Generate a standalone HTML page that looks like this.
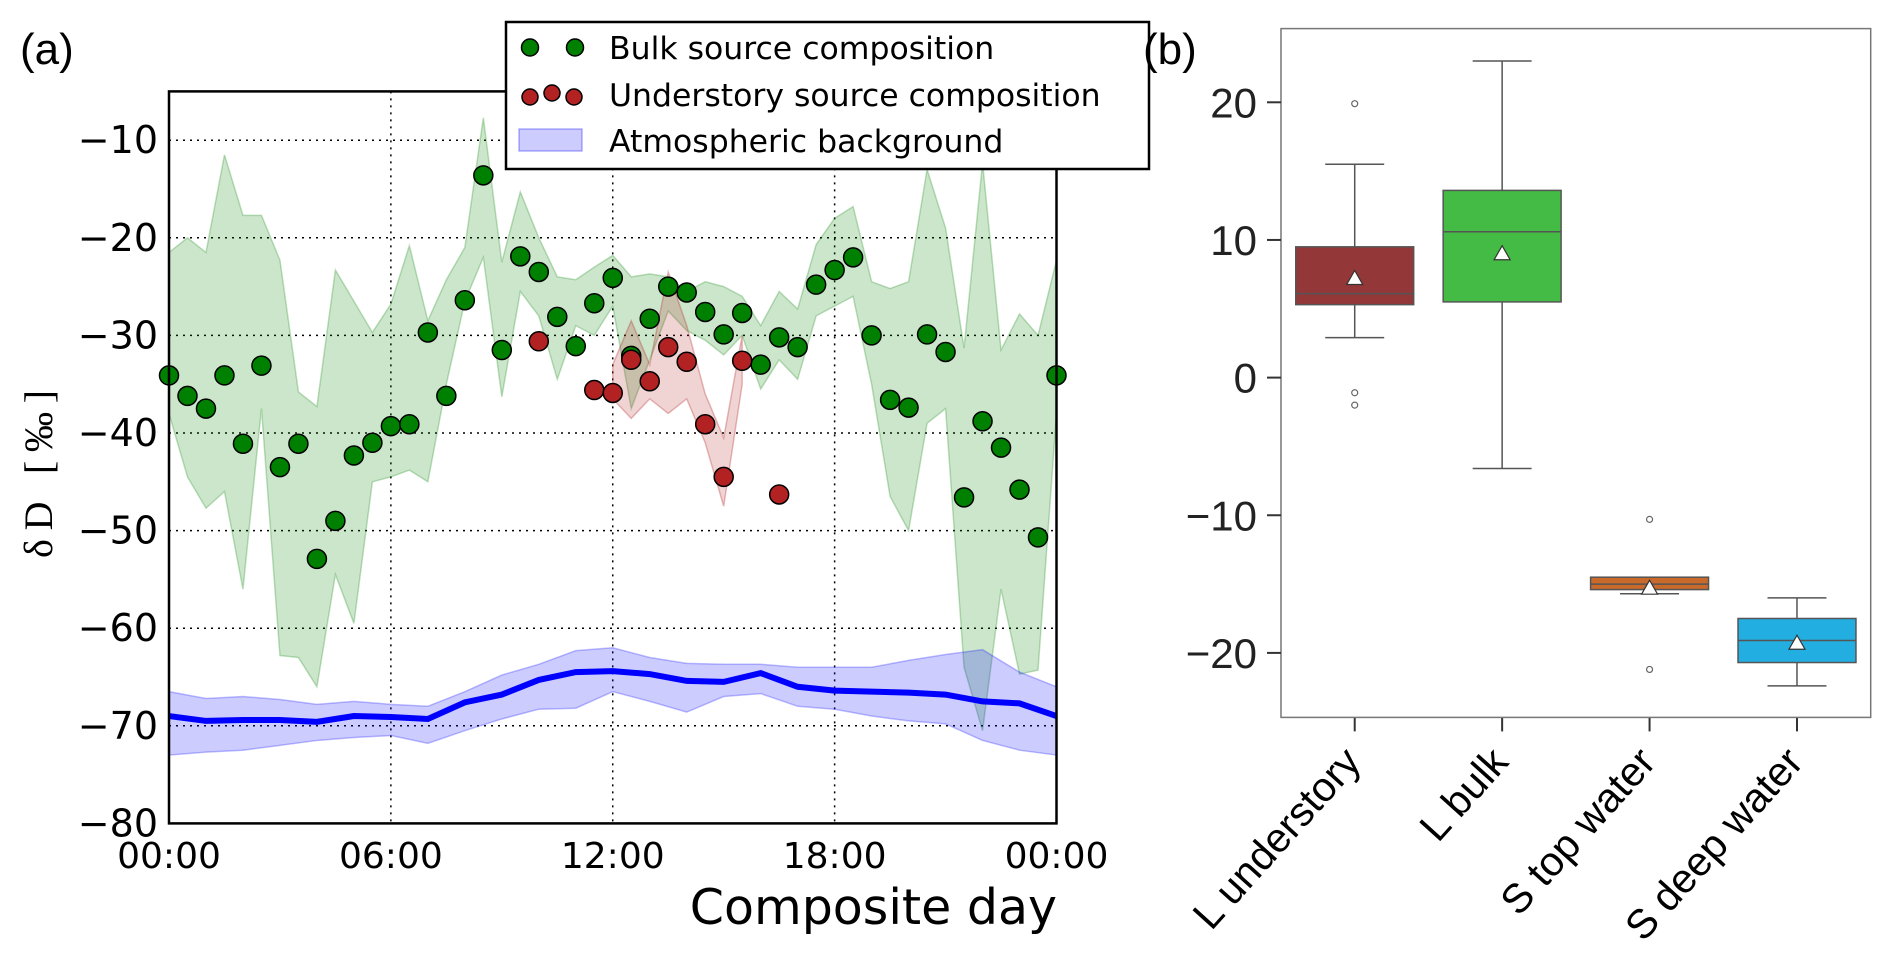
<!DOCTYPE html>
<html><head><meta charset="utf-8"><style>
html,body{margin:0;padding:0;background:#fff;}
svg{display:block;font-family:"Liberation Sans",sans-serif;}
.dj{font-family:"DejaVu Sans","Liberation Sans",sans-serif;}
</style></head><body>
<svg id="fig" width="1892" height="955" viewBox="0 0 1892 955"></svg>
<script>
// ---- Panel (a) data ----
const bulkMean=[-34.1,-36.2,-37.5,-34.1,-41.1,-33.1,-43.5,-41.1,-52.9,-49.0,-42.3,-41.0,-39.3,-39.1,-29.7,-36.2,-26.4,-13.6,-31.5,-21.9,-23.5,-28.1,-31.1,-26.7,-24.1,-32.1,-28.3,-25.0,-25.6,-27.6,-29.9,-27.7,-33.0,-30.2,-31.2,-24.8,-23.3,-22.0,-30.0,-36.6,-37.4,-29.9,-31.7,-46.6,-38.8,-41.5,-45.8,-50.7,-34.1];
const bulkUpper=[-21.5,-20,-21.5,-11.5,-17.7,-17.7,-22.3,-35.8,-37.3,-23.3,-26.5,-29.7,-26.8,-20.8,-28.5,-24.3,-21,-7.7,-22.5,-15.3,-20,-24,-24.3,-23,-21.8,-24,-23.7,-24,-25.5,-24.5,-25,-26,-29,-25.5,-27.3,-20.7,-18,-16.8,-24.5,-25.2,-24.5,-13,-19,-31.3,-12.3,-31.5,-27.8,-30,-22.3];
const bulkLower=[-38,-44.5,-47.7,-46,-56,-37.5,-62.8,-63,-66,-54.5,-59.5,-45,-44.5,-43.8,-45,-35,-26.5,-22,-36.3,-25.5,-28,-34.5,-29,-30,-27,-37.5,-32.5,-27.5,-29.5,-30.5,-32,-30,-35.5,-32.5,-34.5,-28,-27,-26,-35,-46.5,-50,-39,-37.5,-64,-70.5,-56,-64.7,-64.3,-38];
const underIdx=[20,23,24,25,26,27,28,29,30,31,33];
const underVal=[-30.6,-35.6,-35.9,-32.5,-34.7,-31.2,-32.7,-39.1,-44.5,-32.6,-46.3];
const underBandIdx=[24,25,26,27,28,29,30,31];
const underUpper=[-33,-28.5,-33,-23.5,-29,-36,-40.5,-30];
const underLower=[-36.5,-38.5,-36.5,-38,-36.5,-41,-47.5,-35];
const atmMean=[-69,-69.5,-69.4,-69.4,-69.6,-69.0,-69.1,-69.3,-67.6,-66.8,-65.3,-64.5,-64.4,-64.7,-65.4,-65.5,-64.6,-66,-66.4,-66.5,-66.6,-66.8,-67.5,-67.7,-69];
const atmUpper=[-66.5,-67.2,-67,-67.3,-67.8,-67.5,-67.8,-68,-66.5,-64.8,-63.7,-62.3,-62,-63,-63.6,-63.7,-63.7,-64,-64,-64,-63.3,-62.7,-62.2,-64.5,-66];
const atmLower=[-73,-72.7,-72.5,-72,-71.5,-71.2,-71,-71.8,-70.5,-69.3,-68.3,-68.2,-66.5,-67.5,-68.6,-67,-66.7,-68,-68.3,-69,-69.5,-69.8,-71.5,-72.5,-73];
const yTicksA=[-10,-20,-30,-40,-50,-60,-70,-80];
const xTicksA=[0,6,12,18,24];
const xTickLabelsA=["00:00","06:00","12:00","18:00","00:00"];
// ---- Panel (b) data ----
const cats=["L understory","L bulk","S top water","S deep water"];
const colors=["#943739","#44bb44","#c96a2b","#22aee0"];
const q1=[5.3,5.5,-15.4,-20.7];
const q3=[9.5,13.6,-14.5,-17.5];
const med=[6.1,10.6,-15.0,-19.1];
const mean=[7.2,9.0,-15.3,-19.3];
const whLo=[2.9,-6.6,-15.7,-22.4];
const whHi=[15.5,23.0,-14.5,-16.0];
const fliers=[[19.9,-1.1,-2.0],[],[-10.3,-21.2],[]];
const yTicksB=[20,10,0,-10,-20];

const NS="http://www.w3.org/2000/svg";
const svg=document.getElementById('fig');
function mk(tag,attrs,parent){const e=document.createElementNS(NS,tag);for(const k in attrs)e.setAttribute(k,attrs[k]);(parent||svg).appendChild(e);return e;}

// scales a
const AL=169,AR=1056.5,AT=91.4,AB=823.4;
const X=h=>AL+h/24*(AR-AL);
const Y=v=>AT+(-5-v)*(AB-AT)/75;
const ga=mk('g',{class:'dj'});


// grid
xTicksA.slice(1,4).forEach(h=>{const l=mk('line',{x1:X(h),x2:X(h),y1:AT,y2:AB,stroke:'#000','stroke-width':1.5,'stroke-dasharray':'2,5'},ga);});
yTicksA.slice(0,7).forEach(v=>{const l=mk('line',{x1:AL,x2:AR,y1:Y(v),y2:Y(v),stroke:'#000','stroke-width':1.5,'stroke-dasharray':'2,5'},ga);});
function band(xs,up,lo,fill,stroke,name){let d='M'+xs.map((x,i)=>x+','+Y(up[i])).join('L');for(let i=xs.length-1;i>=0;i--)d+='L'+xs[i]+','+Y(lo[i]);d+='Z';const p=mk('path',{d:d,fill:fill,stroke:stroke,'stroke-width':1.5},ga);}
band(bulkMean.map((_,i)=>X(i/2)),bulkUpper,bulkLower,'rgba(0,128,0,0.2)','rgba(0,128,0,0.25)','bulk-band');
band(underBandIdx.map(i=>X(i/2)),underUpper,underLower,'rgba(178,34,34,0.2)','rgba(178,34,34,0.3)','understory-band');
band(atmMean.map((_,i)=>X(i)),atmUpper,atmLower,'rgba(0,0,255,0.2)','rgba(0,0,255,0.25)','atmospheric-band');
const al=mk('polyline',{points:atmMean.map((v,i)=>X(i)+','+Y(v)).join(' '),fill:'none',stroke:'#0000ff','stroke-width':6},ga);

bulkMean.forEach((v,i)=>{const c=mk('circle',{cx:X(i/2),cy:Y(v),r:9.5,fill:'#008000',stroke:'#000','stroke-width':1.5},ga);});
underVal.forEach((v,i)=>{const c=mk('circle',{cx:X(underIdx[i]/2),cy:Y(v),r:9.5,fill:'#b22222',stroke:'#000','stroke-width':1.5},ga);});
const fr=mk('rect',{x:AL,y:AT,width:AR-AL,height:AB-AT,fill:'none',stroke:'#000','stroke-width':2.5},ga);

yTicksA.forEach(v=>{const t=mk('text',{x:158,y:Y(v)+13,'text-anchor':'end','font-size':38},ga);t.textContent=String(v).replace('-','\u2212');});
xTicksA.forEach((h,i)=>{const t=mk('text',{x:X(h),y:868,'text-anchor':'middle','font-size':36},ga);t.textContent=xTickLabelsA[i];});
const xt=mk('text',{x:1057,y:924,'text-anchor':'end','font-size':49},ga);xt.textContent='Composite day';
const yt=mk('text',{x:0,y:0,'text-anchor':'middle','font-size':40,'font-family':'"Liberation Serif",serif',textLength:168,transform:'translate(52,474) rotate(-90)'},ga);yt.textContent='\u03B4D [\u2030]';
const pa=mk('text',{x:20,y:64,'font-size':44,'font-family':'"Liberation Sans",sans-serif'},ga);pa.textContent='(a)';
// legend
const lg=mk('g',{},ga);
mk('rect',{x:506,y:22,width:643,height:147,fill:'#fff',stroke:'#000','stroke-width':2.5},lg);
[[530,47.5],[575,47.5]].forEach(p=>mk('circle',{cx:p[0],cy:p[1],r:8.5,fill:'#008000',stroke:'#000','stroke-width':1.5},lg));
[[530,97],[552,93],[574,97]].forEach(p=>mk('circle',{cx:p[0],cy:p[1],r:8,fill:'#b22222',stroke:'#000','stroke-width':1.5},lg));
mk('rect',{x:519,y:129,width:63,height:22,fill:'rgba(0,0,255,0.2)',stroke:'rgba(0,0,255,0.3)','stroke-width':1.5},lg);
[['Bulk source composition',59,'legend-entry-bulk'],['Understory source composition',106,'legend-entry-understory'],['Atmospheric background',152,'legend-entry-atmospheric']].forEach(a=>{const t=mk('text',{x:609,y:a[1],'font-size':31.5},lg);t.textContent=a[0];});

// panel b
const BL=1281,BR=1870.7,BT=28.6,BB=717.4;
const YB=v=>377.6-v*13.765;
const slot=(BR-BL)/4;
const XB=i=>BL+(i+0.5)*slot;
const gb=mk('g',{});
const bw=slot*0.8;
cats.forEach((c,i)=>{
 const g=mk('g',{},gb);
 const x=XB(i),col='#555';
 mk('line',{x1:x,x2:x,y1:YB(whHi[i]),y2:YB(q3[i]),stroke:col,'stroke-width':1.5},g);
 mk('line',{x1:x,x2:x,y1:YB(q1[i]),y2:YB(whLo[i]),stroke:col,'stroke-width':1.5},g);
 mk('line',{x1:x-bw/4,x2:x+bw/4,y1:YB(whHi[i]),y2:YB(whHi[i]),stroke:col,'stroke-width':1.5},g);
 mk('line',{x1:x-bw/4,x2:x+bw/4,y1:YB(whLo[i]),y2:YB(whLo[i]),stroke:col,'stroke-width':1.5},g);
 mk('rect',{x:x-bw/2,y:YB(q3[i]),width:bw,height:YB(q1[i])-YB(q3[i]),fill:colors[i],stroke:col,'stroke-width':1.5},g);
 mk('line',{x1:x-bw/2,x2:x+bw/2,y1:YB(med[i]),y2:YB(med[i]),stroke:col,'stroke-width':1.5},g);
 const my=YB(mean[i]);
 mk('polygon',{points:`${x-8},${my+6} ${x+8},${my+6} ${x},${my-8}`,fill:'#fff',stroke:'#333','stroke-width':1.2},g);
 fliers[i].forEach(v=>mk('circle',{cx:x,cy:YB(v),r:3,fill:'none',stroke:'#666','stroke-width':1.2},g));
 mk('line',{x1:x,x2:x,y1:BB,y2:BB+14,stroke:'#333','stroke-width':2},g);
 const t=mk('text',{x:0,y:0,'text-anchor':'end','font-size':41,transform:`translate(${x+8},${BB+46}) rotate(-48)`},gb);t.textContent=c;
});
const fb=mk('rect',{x:BL,y:BT,width:BR-BL,height:BB-BT,fill:'none',stroke:'#777','stroke-width':1.5},gb);

yTicksB.forEach(v=>{mk('line',{x1:BL-14,x2:BL,y1:YB(v),y2:YB(v),stroke:'#333','stroke-width':2},gb);const t=mk('text',{x:BL-24,y:YB(v)+15,'text-anchor':'end','font-size':42,fill:'#222'},gb);t.textContent=String(v).replace('-','\u2212');});
const pb=mk('text',{x:1143,y:64,'font-size':44},gb);pb.textContent='(b)';
</script>
</body></html>
